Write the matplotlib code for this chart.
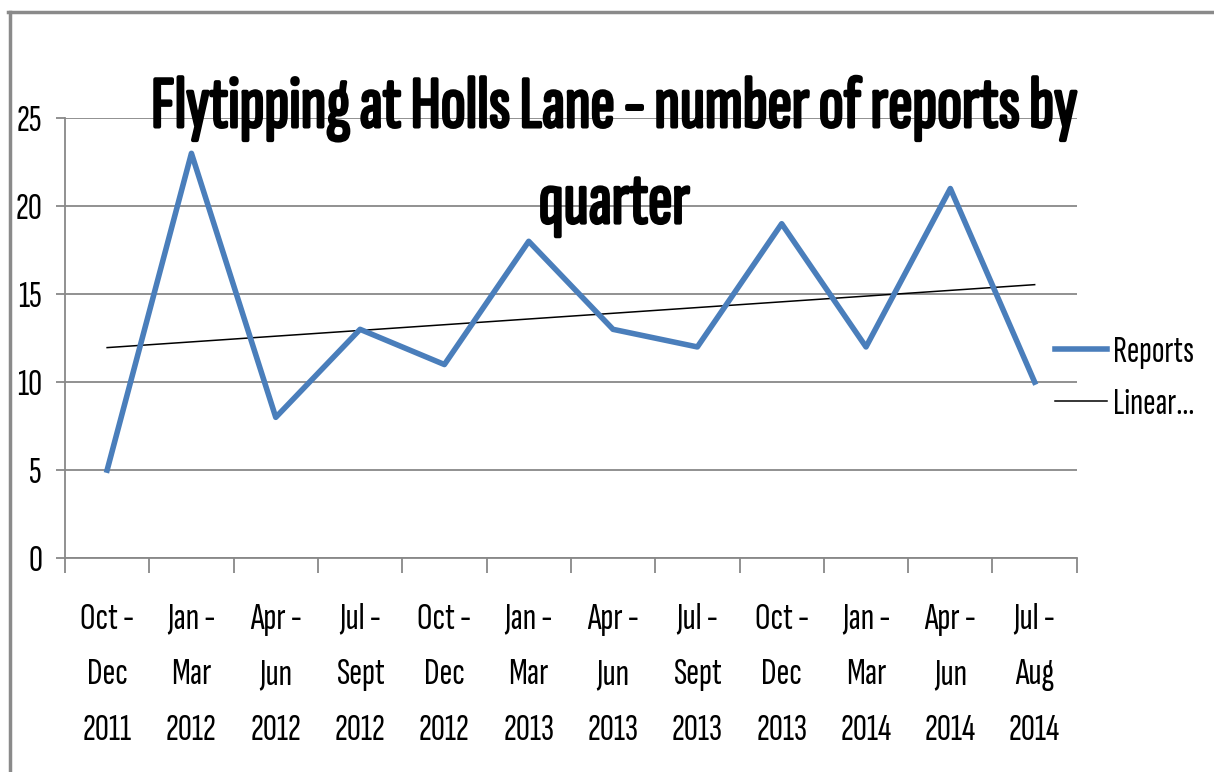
import matplotlib.pyplot as plt
import matplotlib.patheffects as pe
import numpy as np

quarters = ["Oct -\nDec\n2011", "Jan -\nMar\n2012", "Apr -\nJun\n2012", "Jul -\nSept\n2012",
            "Oct -\nDec\n2012", "Jan -\nMar\n2013", "Apr -\nJun\n2013", "Jul -\nSept\n2013",
            "Oct -\nDec\n2013", "Jan -\nMar\n2014", "Apr -\nJun\n2014", "Jul -\nAug\n2014"]
reports = [5, 23, 8, 13, 11, 18, 13, 12, 19, 12, 21, 10]
y_ticks = [0, 5, 10, 15, 20, 25]

# narrow font to imitate the squeezed Calibri of the original
plt.rcParams['font.family'] = ['Sofia Sans Extra Condensed', 'DejaVu Sans']

fig = plt.figure(figsize=(12.14, 7.72), dpi=100)
ax = fig.add_axes([0.0535, 0.277, 0.8335, 0.570])

x = np.arange(1, len(reports) + 1)
ax.plot(x, reports, color='#4A7EBB', linewidth=4, label='Reports', zorder=3)

# linear trend line
slope, intercept = np.polyfit(x, reports, 1)
ax.plot(x, slope * x + intercept, color='black', linewidth=1.1, label='Linear...', zorder=2)

ax.set_xlim(0.5, len(reports) + 0.5)
ax.set_ylim(0, 25)
ax.set_yticks(y_ticks)
ax.set_yticklabels([str(v) for v in y_ticks], fontsize=28)
ax.yaxis.grid(True, color='#888888', linewidth=1.3)
ax.set_axisbelow(True)

# category boundaries as major ticks, labels centred on minor ticks
ax.set_xticks(np.arange(0.5, len(reports) + 1, 1))
ax.set_xticklabels([])
ax.set_xticks(x, minor=True)
ax.set_xticklabels(quarters, minor=True, fontsize=28, linespacing=1.88)
ax.tick_params(axis='x', which='minor', length=0, pad=32)
ax.tick_params(axis='x', which='major', length=11, color='#888888', width=1.3)
ax.tick_params(axis='y', length=6.5, color='#888888', width=1.3, pad=10)

for side in ['top', 'right']:
    ax.spines[side].set_visible(False)
for side in ['left', 'bottom']:
    ax.spines[side].set_color('#888888')
    ax.spines[side].set_linewidth(1.3)

bold = [pe.withStroke(linewidth=2.2, foreground='black')]
fig.text(0.506, 0.8355, 'Flytipping at Holls Lane - number of reports by', ha='center', va='baseline',
         fontsize=53, path_effects=bold, zorder=5)
fig.text(0.506, 0.711, 'quarter', ha='center', va='baseline', fontsize=53, path_effects=bold, zorder=5)

ax.legend(loc='center left', bbox_to_anchor=(0.978, 0.408), frameon=False, fontsize=27,
          handlelength=1.4, handletextpad=0.15, labelspacing=0.5, borderpad=0, borderaxespad=0)

# outer chart border (top and left)
fig.add_artist(plt.Line2D([0.007, 1.0], [0.984, 0.984], color='#8a8a8a', linewidth=2.5))
fig.add_artist(plt.Line2D([0.008, 0.008], [0.0, 0.985], color='#8a8a8a', linewidth=2.5))

fig.savefig('out.png', dpi=100)
